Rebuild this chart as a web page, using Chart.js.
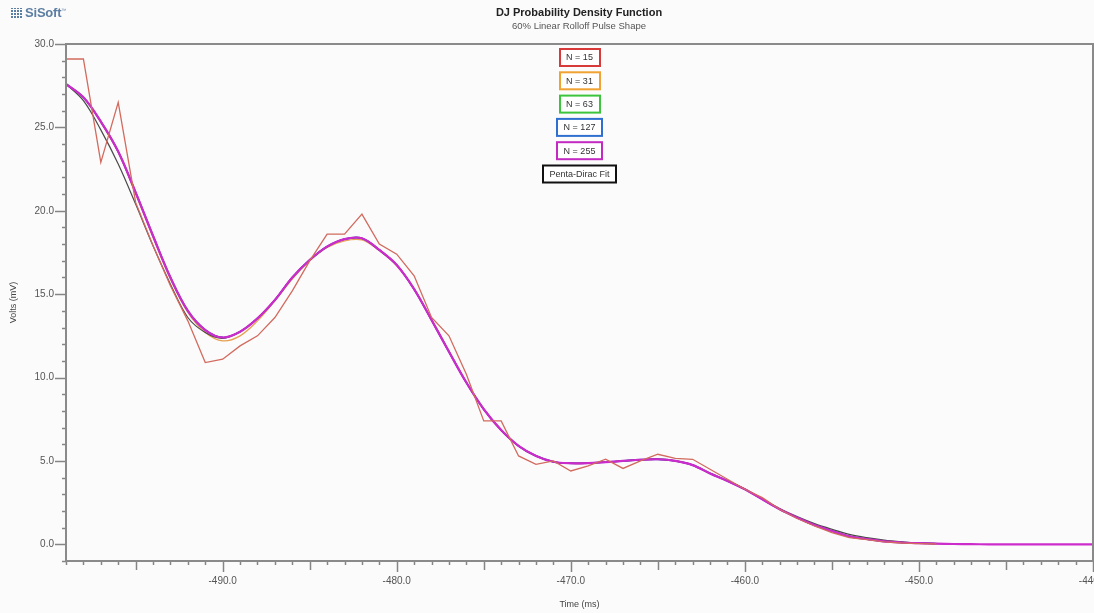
<!DOCTYPE html>
<html>
<head>
<meta charset="utf-8">
<script src="https://cdn.jsdelivr.net/npm/chart.js@4.4.1/dist/chart.umd.min.js"></script>
<style>
html,body{margin:0;padding:0;background:#fbfbfb;}
#wrap{position:relative;width:1094px;height:613px;overflow:hidden;background:#fbfbfb;}
canvas{position:absolute;left:0;top:0;}
.t{position:absolute;font-family:"Liberation Sans",Arial,sans-serif;white-space:nowrap;}
#logo{left:11px;top:5px;font-weight:bold;font-size:13px;color:#5d7ea3;letter-spacing:-0.2px;}
#logo .ic{display:inline-block;width:11px;height:10px;margin-right:3px;vertical-align:-1px;
  background:repeating-linear-gradient(90deg,#5d7ea3 0 2px,transparent 2px 3px);
  -webkit-mask:repeating-linear-gradient(0deg,#000 0 2px,transparent 2px 3px);}
#title{left:579px;top:6px;transform:translateX(-50%);font-weight:bold;font-size:11px;color:#222;}
#sub{left:579px;top:20px;transform:translateX(-50%);font-size:9.5px;color:#555;}
</style>
</head>
<body>
<div id="wrap">
<canvas id="c" width="1094" height="613"></canvas>
<div class="t" id="logo"><span class="ic"></span>SiSoft<sup style="font-size:5px;font-weight:normal">™</sup></div>
<div class="t" id="title">DJ Probability Density Function</div>
<div class="t" id="sub">60% Linear Rolloff Pulse Shape</div>
</div>
<script>
// ---------- data ----------
const times = [-499,-498,-497,-496,-495,-494,-493,-492,-491,-490,
  -489,-488,-487,-486,-485,-484,-483,-482,-481,-480,
  -479,-478,-477,-476,-475,-474,-473,-472,-471,-470,
  -469,-468,-467,-466,-465,-464,-463,-462,-461,-460,
  -459,-458,-457,-456,-455,-454,-453,-452,-451,-450,
  -449,-448,-447,-446,-445,-444,-443,-442,-441,-440];

const n15 = [29.1,29.1,22.9,26.5,20.5,17.9,15.5,13.4,10.9,11.1,
  11.9,12.5,13.6,15.2,17.0,18.6,18.6,19.8,18.0,17.4,
  16.1,13.6,12.5,10.2,7.4,7.4,5.3,4.8,5.0,4.4,
  4.7,5.1,4.55,5.0,5.4,5.15,5.1,4.5,3.9,3.3,
  2.8,2.1,1.55,1.1,0.7,0.4,0.28,0.15,0.08,0.04,0.02];

const n31 = [27.6,26.8,25.3,23.5,21.0,18.4,15.9,13.9,12.7,12.2,
  12.5,13.4,14.6,15.9,17.0,17.8,18.2,18.25,17.6,16.7,
  15.3,13.5,11.6,9.7,8.1,6.8,5.9,5.3,4.95,4.85,
  4.87,4.93,5.0,5.07,5.1,5.0,4.75,4.25,3.8,3.3,
  2.7,2.1,1.6,1.15,0.8,0.5,0.32,0.18,0.11,0.07,0.04];

const n63 = [27.6,26.8,25.35,23.55,21.1,18.5,16.0,14.0,12.85,12.4,
  12.75,13.55,14.65,16.0,17.05,17.85,18.3,18.35,17.65,16.75,
  15.3,13.45,11.55,9.7,8.1,6.85,5.9,5.3,4.95,4.86,
  4.87,4.93,5.0,5.07,5.1,5.0,4.75,4.25,3.8,3.3,
  2.7,2.1,1.6,1.15,0.8,0.48,0.32,0.18,0.11,0.07,0.04];

const n127 = [27.6,26.8,25.35,23.55,21.1,18.5,16.0,14.0,12.85,12.4,
  12.75,13.55,14.65,16.0,17.05,17.85,18.3,18.35,17.65,16.75,
  15.3,13.45,11.55,9.7,8.1,6.85,5.9,5.3,4.95,4.86,
  4.87,4.93,5.0,5.07,5.1,5.0,4.75,4.25,3.8,3.3,
  2.7,2.1,1.6,1.15,0.8,0.48,0.32,0.18,0.11,0.07,0.04];

const n255 = [27.6,26.8,25.35,23.55,21.1,18.5,16.0,14.0,12.85,12.4,
  12.75,13.55,14.65,16.0,17.05,17.85,18.3,18.35,17.65,16.75,
  15.3,13.45,11.55,9.7,8.1,6.85,5.9,5.3,4.95,4.86,
  4.87,4.93,5.0,5.07,5.1,5.0,4.75,4.25,3.8,3.3,
  2.7,2.1,1.6,1.15,0.8,0.48,0.32,0.18,0.11,0.07,
  0.04,0.02,0.01,0,0,0,0,0,0,0];

const fit = [27.6,26.6,24.85,22.8,20.4,17.9,15.6,13.6,12.7,12.35,
  12.75,13.55,14.65,16.0,17.05,17.85,18.3,18.35,17.65,16.75,
  15.3,13.45,11.55,9.7,8.1,6.85,5.9,5.3,4.95,4.86,
  4.87,4.93,5.0,5.07,5.1,5.0,4.75,4.25,3.8,3.3,
  2.72,2.14,1.66,1.24,0.9,0.6,0.4,0.25,0.15,0.08,0.04,0.02];

const seriesLabels = ['N = 15','N = 31','N = 63','N = 127','N = 255','Penta-Dirac Fit'];
const legendColors = ['#d83a3a','#f0a232','#3cc43c','#2f6fd0','#c22ac2','#111111'];
const lineColors   = ['#d26a5e','#e8a050','#40b040','#5040c8','#cc2ccc','#4a4a4a'];
const lineWidths   = [1.3,1.3,1.3,1.8,2.2,1.2];
const drawOrder    = [0,5,4,3,1,2];

const yTickMin = -1, yTickMax = 30, yMajor = 5, yMinor = 1;
const xTickMin = -499, xTickMax = -440, xMajor = 10, xMid = 5, xMinor = 1;

// ---------- build ----------
const allSeries = [n15,n31,n63,n127,n255,fit];
const datasets = allSeries.map((vals,i)=>({
  label: seriesLabels[i],
  data: vals.map((v,k)=>({x:times[k], y:v})),
  borderColor: lineColors[i],
  legendColor: legendColors[i],
  borderWidth: lineWidths[i],
  pointRadius: 0,
  fill: false,
  tension: i===0 ? 0 : 0.35,
  order: drawOrder[i]
}));

const FONT = '"Liberation Sans", Arial, sans-serif';

const framePlugin = {
  id:'frame',
  afterDatasetsDraw(chart){
    const {ctx, chartArea:a, scales:{x,y}} = chart;
    ctx.save();
    ctx.strokeStyle = '#858585';
    ctx.lineWidth = 1.5;
    for (let v = Math.ceil(x.min); v <= x.max; v += xMinor){
      const px = Math.round(x.getPixelForValue(v)) + 0.5;
      const len = (v % xMajor === 0) ? 11 : (v % xMid === 0 ? 9 : 4);
      ctx.beginPath(); ctx.moveTo(px, a.bottom); ctx.lineTo(px, a.bottom + len); ctx.stroke();
    }
    for (let v = Math.ceil(y.min); v <= y.max; v += yMinor){
      const py = Math.round(y.getPixelForValue(v)) + 0.5;
      const len = (v % yMajor === 0) ? 11 : 4;
      ctx.beginPath(); ctx.moveTo(a.left, py); ctx.lineTo(a.left - len, py); ctx.stroke();
    }
    ctx.lineWidth = 2;
    ctx.strokeStyle = '#8a8a8a';
    ctx.strokeRect(a.left, a.top, a.right - a.left, a.bottom - a.top);
    ctx.restore();
  }
};

const boxLegend = {
  id:'boxLegend',
  afterDraw(chart){
    const {ctx, chartArea:a} = chart;
    const cx = (a.left + a.right)/2;
    ctx.save();
    ctx.font = '9px ' + FONT;
    ctx.textAlign = 'center';
    ctx.textBaseline = 'middle';
    let top = 49;
    chart.data.datasets.forEach(ds=>{
      const w = Math.round(ctx.measureText(ds.label).width + 13);
      const h = 17;
      const x0 = Math.round(cx - w/2);
      ctx.fillStyle = '#ffffff';
      ctx.fillRect(x0, top, w, h);
      ctx.strokeStyle = ds.legendColor;
      ctx.lineWidth = 2;
      ctx.strokeRect(x0, top, w, h);
      ctx.fillStyle = '#333';
      ctx.fillText(ds.label, cx, top + h/2 + 0.5);
      top += 23.3;
    });
    ctx.restore();
  }
};

new Chart(document.getElementById('c'), {
  type:'line',
  data:{datasets},
  options:{
    responsive:false,
    animation:false,
    layout:{padding:{top:44,right:1,left:0,bottom:0}},
    plugins:{legend:{display:false}, tooltip:{enabled:false}, title:{display:false}},
    scales:{
      x:{
        type:'linear', min:xTickMin, max:xTickMax,
        ticks:{stepSize:xMajor, includeBounds:false, maxRotation:0, autoSkip:false,
          callback:v=>Number(v).toFixed(1), color:'#555', padding:14, font:{size:10,family:FONT}},
        grid:{display:true, drawOnChartArea:false, drawTicks:false},
        border:{display:false},
        title:{display:true, text:'Time (ms)', color:'#444', font:{size:9,family:FONT}, padding:{top:0,bottom:3.5}},
        afterFit(s){ s.height = 52; s.paddingLeft = 0; s.paddingRight = 0; }
      },
      y:{
        type:'linear', min:yTickMin, max:yTickMax,
        ticks:{stepSize:yMajor, includeBounds:false,
          callback:v=>Number(v).toFixed(1), color:'#555', padding:12, font:{size:10,family:FONT}},
        grid:{display:true, drawOnChartArea:false, drawTicks:false},
        border:{display:false},
        title:{display:true, text:'Volts (mV)', color:'#444', font:{size:9,family:FONT}, padding:{top:8.5,bottom:0}},
        afterFit(s){ s.width = 66; s.paddingTop = 0; s.paddingBottom = 0; }
      }
    }
  },
  plugins:[framePlugin, boxLegend]
});
</script>
</body>
</html>
